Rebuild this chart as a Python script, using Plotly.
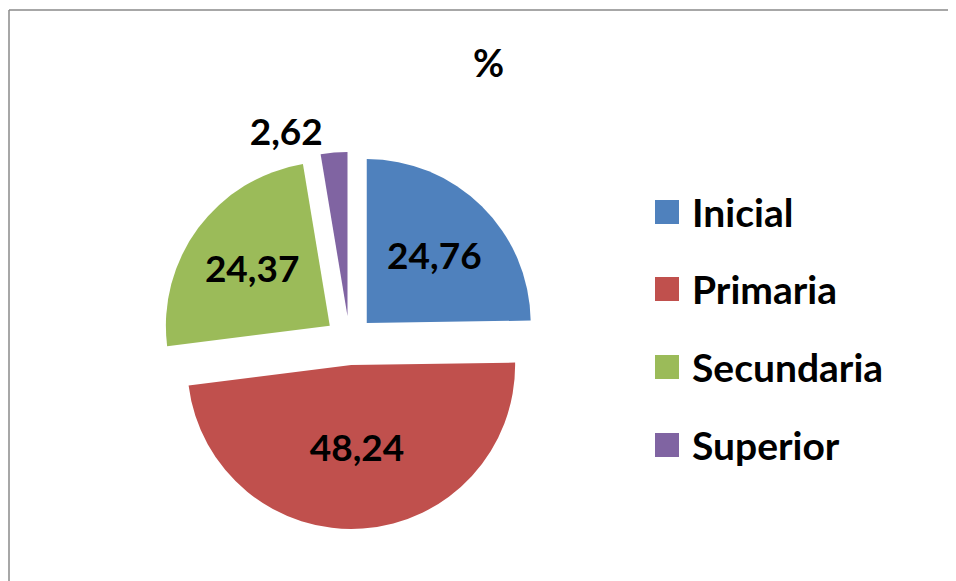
import plotly.graph_objects as go

categories = ["Inicial", "Primaria", "Secundaria", "Superior"]
values = [24.76, 48.24, 24.37, 2.62]
colors = ["#4F81BD", "#C0504D", "#9BBB59", "#8064A2"]
text_positions = ["inside", "inside", "inside", "outside"]

# The page body adds an 8px offset; compensate in paper coordinates
OFF = 8
W, H = 956, 581
FONT = "Lato"


def px(x):
    return (x - OFF) / W


def py(y):
    return 1 - (y - OFF) / H


fig = go.Figure()
fig.add_trace(go.Pie(
    labels=categories,
    values=values,
    sort=False,
    direction="clockwise",
    rotation=0,
    pull=[0.15] * len(values),
    marker=dict(colors=colors, line=dict(width=0)),
    texttemplate="%{value:.2f}",
    textposition=text_positions,
    insidetextorientation="horizontal",
    textfont=dict(family=FONT, size=37, color="black", weight="bold"),
    domain=dict(x=[px(161), px(538)], y=[py(529), py(152)]),
    showlegend=False,
    hoverinfo="label+value",
))

legend_y = [212, 289, 367, 445]
shapes = [
    dict(type="line", xref="paper", yref="paper",
         x0=px(9), x1=1.2, y0=py(10), y1=py(10),
         line=dict(color="#8a8a8a", width=1.5)),
    dict(type="line", xref="paper", yref="paper",
         x0=px(9), x1=px(9), y0=py(10), y1=-0.2,
         line=dict(color="#8a8a8a", width=1.5)),
]
annotations = [dict(text="<b>%</b>", x=px(488), y=py(62), xref="paper", yref="paper",
                    showarrow=False, xanchor="center", yanchor="middle",
                    font=dict(family=FONT, size=38, color="black"))]
for cat, col, yy in zip(categories, colors, legend_y):
    shapes.append(dict(type="rect", xref="paper", yref="paper",
                       x0=px(655), x1=px(679), y0=py(yy + 12), y1=py(yy - 12),
                       fillcolor=col, line=dict(width=0)))
    annotations.append(dict(text=f"<b>{cat}</b>", x=px(690), y=py(yy),
                            xref="paper", yref="paper", showarrow=False,
                            xanchor="left", yanchor="middle",
                            font=dict(family=FONT, size=39, color="black")))

fig.update_layout(
    width=W, height=H,
    margin=dict(l=0, r=0, t=0, b=0),
    paper_bgcolor="white", plot_bgcolor="white",
    separators=",.",
    shapes=shapes,
    annotations=annotations,
)

fig.write_html("out.html")
